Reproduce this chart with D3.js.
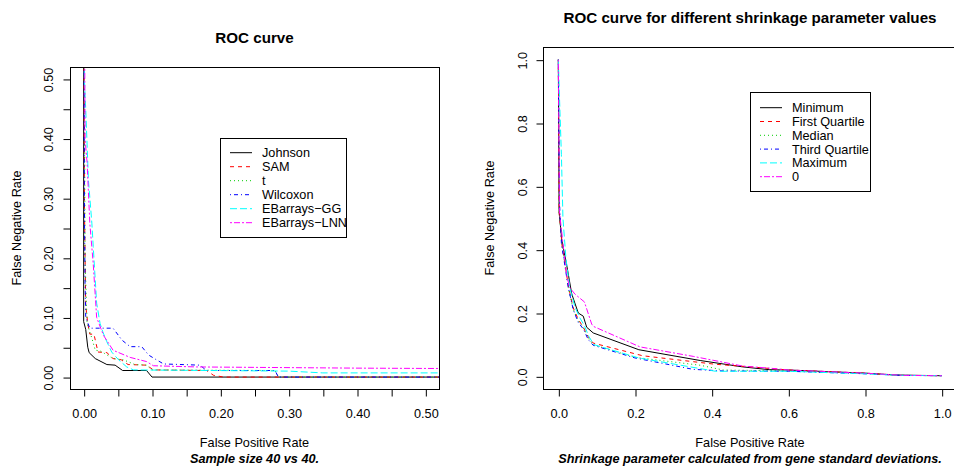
<!DOCTYPE html>
<html>
<head>
<meta charset="utf-8">
<script src="https://cdn.jsdelivr.net/npm/d3@7"></script>
<style>
  html, body { margin: 0; padding: 0; background: #fff; }
  svg { display: block; font-family: "Liberation Sans", Arial, Helvetica, sans-serif; }
</style>
</head>
<body>
<svg id="chart" width="954" height="466"></svg>
<script>
// ---------------- DATA ----------------
// Left panel: ROC curves (x = False Positive Rate, y = False Negative Rate)
const leftNames = ["Johnson", "SAM", "t", "Wilcoxon", "EBarrays\u2212GG", "EBarrays\u2212LNN"];
const johnson = [[0,1],[0,0.093],[0.003,0.08],[0.006,0.05],[0.008,0.041],[0.017,0.031],[0.034,0.021],[0.046,0.02],[0.057,0.011],[0.092,0.011],[0.1,0],[1,0]];
const sam = [[0,1],[0.001,0.3],[0.003,0.12],[0.006,0.09],[0.009,0.072],[0.015,0.072],[0.021,0.042],[0.034,0.041],[0.043,0.031],[0.055,0.029],[0.065,0.021],[0.092,0.02],[0.102,0.012],[0.18,0.011],[0.19,0.003],[0.205,0],[1,0]];
const tTest = [[0,1],[0.002,0.2],[0.005,0.09],[0.012,0.065],[0.017,0.045],[0.024,0.044],[0.03,0.04],[0.043,0.031],[0.058,0.029],[0.075,0.021],[0.092,0.02],[0.1,0.012],[0.28,0.011],[0.285,0],[1,0]];
const wilcoxon = [[0,1],[0.001,0.3],[0.002,0.16],[0.003,0.1],[0.009,0.082],[0.043,0.082],[0.056,0.062],[0.068,0.051],[0.085,0.051],[0.095,0.037],[0.105,0.03],[0.117,0.022],[0.17,0.02],[0.18,0.011],[0.28,0.011],[0.285,0],[1,0]];
const ebGG = [[0,1],[0.001,0.5],[0.003,0.45],[0.007,0.33],[0.012,0.258],[0.014,0.219],[0.019,0.124],[0.024,0.09],[0.028,0.076],[0.034,0.059],[0.041,0.042],[0.051,0.029],[0.063,0.017],[0.073,0.012],[0.3,0.01],[0.35,0.007],[1,0.007]];
const ebLNN = [[0,1],[0.002,0.40],[0.005,0.36],[0.009,0.258],[0.014,0.19],[0.019,0.10],[0.029,0.07],[0.043,0.045],[0.068,0.033],[0.092,0.026],[0.102,0.019],[0.165,0.017],[0.4,0.015],[1,0.012]];
const leftSeries = [johnson, sam, tTest, wilcoxon, ebGG, ebLNN];

// Right panel: shrinkage parameter values
const rightNames = ["Minimum", "First Quartile", "Median", "Third Quartile", "Maximum", "0"];
const shrMin = [[0,1],[0.002,0.52],[0.009,0.43],[0.022,0.35],[0.035,0.26],[0.052,0.2],[0.065,0.19],[0.074,0.155],[0.091,0.137],[0.21,0.084],[0.37,0.05],[0.48,0.03],[0.55,0.021],[0.6,0.02],[0.7,0.015],[0.8,0.01],[0.88,0.004],[1,0.002]];
const shrQ1 = [[0,1],[0.002,0.52],[0.01,0.41],[0.017,0.36],[0.026,0.285],[0.039,0.216],[0.052,0.18],[0.065,0.155],[0.078,0.125],[0.091,0.105],[0.22,0.065],[0.41,0.038],[0.5,0.03],[0.6,0.02],[0.8,0.01],[0.9,0.003],[1,0.002]];
const shrMed = [[0,1],[0.002,0.52],[0.01,0.41],[0.017,0.355],[0.026,0.28],[0.039,0.21],[0.052,0.175],[0.065,0.155],[0.078,0.12],[0.091,0.1],[0.2,0.06],[0.37,0.035],[0.43,0.02],[0.6,0.017],[0.8,0.01],[0.9,0.003],[1,0.002]];
const shrQ3 = [[0,1],[0.003,0.55],[0.008,0.42],[0.017,0.35],[0.026,0.28],[0.039,0.21],[0.052,0.17],[0.065,0.15],[0.078,0.116],[0.091,0.098],[0.2,0.058],[0.352,0.022],[0.43,0.017],[0.6,0.016],[0.8,0.008],[0.9,0.003],[1,0.002]];
const shrMax = [[0,1],[0.003,0.88],[0.008,0.7],[0.012,0.5],[0.02,0.37],[0.03,0.28],[0.043,0.22],[0.056,0.185],[0.068,0.16],[0.08,0.125],[0.093,0.1],[0.21,0.058],[0.41,0.016],[0.6,0.016],[0.8,0.008],[0.9,0.003],[1,0.002]];
const shrZero = [[0,1],[0.003,0.52],[0.013,0.41],[0.022,0.316],[0.03,0.28],[0.043,0.26],[0.068,0.235],[0.087,0.165],[0.091,0.158],[0.213,0.093],[0.352,0.063],[0.483,0.032],[0.55,0.026],[0.6,0.02],[0.8,0.01],[0.9,0.003],[1,0.002]];
const rightSeries = [shrMin, shrQ1, shrMed, shrQ3, shrMax, shrZero];

// Tick values / labels
const leftTicks = [0,0.05,0.1,0.15,0.2,0.25,0.3,0.35,0.4,0.45,0.5];
const leftTickLabels = ["0.00","","0.10","","0.20","","0.30","","0.40","","0.50"];
const rightTicks = [0,0.2,0.4,0.6,0.8,1.0];
const rightTickLabels = ["0.0","0.2","0.4","0.6","0.8","1.0"];

// Styles (R palette 1:6, lty 1:6)
const colors = ["#000000","#FF0000","#00CD00","#0000FF","#00FFFF","#FF00FF"];
const dashes = [null, "4,4", "1,3", "1,3,4,3", "7,3", "2,2,6,2"];

// ---------------- DRAW ----------------
const svg = d3.select("#chart");
svg.append("rect").attr("width",954).attr("height",466).attr("fill","#fff");
const FS = 12.7;

function panel(cfg) {
  const x = d3.scaleLinear().domain(cfg.xdom).range([cfg.left, cfg.right]);
  const y = d3.scaleLinear().domain(cfg.ydom).range([cfg.bottom, cfg.top]);
  const g = svg.append("g");
  const clipId = "clip" + cfg.id;
  svg.append("clipPath").attr("id", clipId).append("rect")
    .attr("x", cfg.left).attr("y", cfg.top)
    .attr("width", cfg.right - cfg.left).attr("height", cfg.bottom - cfg.top);

  const line = d3.line().x(d => x(d[0])).y(d => y(d[1]));
  const lg = g.append("g").attr("clip-path", `url(#${clipId})`);
  cfg.series.forEach((s, i) => {
    lg.append("path").datum(s)
      .attr("d", line)
      .attr("fill","none")
      .attr("stroke", colors[i])
      .attr("stroke-width", 1)
      .attr("stroke-dasharray", dashes[i]);
  });

  // box
  g.append("rect")
    .attr("x", cfg.left + 0.5).attr("y", cfg.top + 0.5)
    .attr("width", cfg.right - cfg.left).attr("height", cfg.bottom - cfg.top)
    .attr("fill","none").attr("stroke","#000").attr("stroke-width",1);

  // x axis
  const xa = g.append("g").attr("transform", `translate(0.5,${cfg.bottom + 0.5})`)
    .call(d3.axisBottom(x).tickValues(cfg.ticks).tickSize(7).tickSizeOuter(0)
      .tickFormat((d,i) => cfg.tickLabels[i]));
  xa.select(".domain").remove();
  xa.selectAll("text").attr("y", 19.5).attr("dy","0.71em")
    .attr("font-size", FS).attr("font-family", null).attr("fill","#000");

  // y axis
  const ya = g.append("g").attr("transform", `translate(${cfg.left + 0.5},0.5)`)
    .call(d3.axisLeft(y).tickValues(cfg.ticks).tickSize(7).tickSizeOuter(0)
      .tickFormat((d,i) => cfg.tickLabels[i]));
  ya.select(".domain").remove();
  ya.selectAll("text")
    .attr("transform","rotate(-90)")
    .attr("x", 0).attr("y", -cfg.ylabOff).attr("dy","0.35em")
    .attr("text-anchor","middle")
    .attr("font-size", FS).attr("font-family", null).attr("fill","#000");

  // titles
  const cx = (cfg.left + cfg.right) / 2;
  g.append("text").attr("x", cx).attr("y", cfg.top - 24.5)
    .attr("text-anchor","middle").attr("font-weight","bold")
    .attr("font-size", 15.2).text(cfg.title);
  g.append("text").attr("x", cx).attr("y", 446.5)
    .attr("text-anchor","middle").attr("font-size", FS).text("False Positive Rate");
  g.append("text").attr("x", cx).attr("y", 462.5)
    .attr("text-anchor","middle").attr("font-size", FS)
    .attr("font-weight","bold").attr("font-style","italic").text(cfg.sub);
  const cy = (cfg.top + cfg.bottom) / 2;
  g.append("text").attr("transform", `translate(${cfg.left - 53},${cy}) rotate(-90)`)
    .attr("text-anchor","middle").attr("dy","0.35em").attr("font-size", FS)
    .text("False Negative Rate");

  // legend
  const L = cfg.legend;
  g.append("rect").attr("x", L.x + 0.5).attr("y", L.y + 0.5)
    .attr("width", L.w).attr("height", L.h)
    .attr("fill","#fff").attr("stroke","#000").attr("stroke-width",1);
  cfg.names.forEach((n, i) => {
    const ry = L.row0 + i * L.step;
    g.append("line").attr("x1", L.x + 10).attr("x2", L.x + 32)
      .attr("y1", ry).attr("y2", ry)
      .attr("stroke", colors[i]).attr("stroke-width",1)
      .attr("stroke-dasharray", dashes[i]);
    g.append("text").attr("x", L.x + 42).attr("y", ry).attr("dy","0.35em")
      .attr("font-size", FS).text(n);
  });
}

panel({
  id: "L", left: 70, right: 439, top: 67, bottom: 389,
  xdom: [-0.02, 0.52], ydom: [-0.02, 0.52],
  ticks: leftTicks, tickLabels: leftTickLabels, ylabOff: 22,
  title: "ROC curve", sub: "Sample size 40 vs 40.",
  series: leftSeries, names: leftNames,
  legend: { x: 220, y: 138, w: 126, h: 99, row0: 152.7, step: 14 }
});

panel({
  id: "R", left: 543, right: 957, top: 47, bottom: 389,
  xdom: [-0.04, 1.04], ydom: [-0.04, 1.04],
  ticks: rightTicks, tickLabels: rightTickLabels, ylabOff: 21,
  title: "ROC curve for different shrinkage parameter values",
  sub: "Shrinkage parameter calculated from gene standard deviations.",
  series: rightSeries, names: rightNames,
  legend: { x: 750, y: 92, w: 120, h: 99, row0: 107.7, step: 13.8 }
});
</script>
</body>
</html>
